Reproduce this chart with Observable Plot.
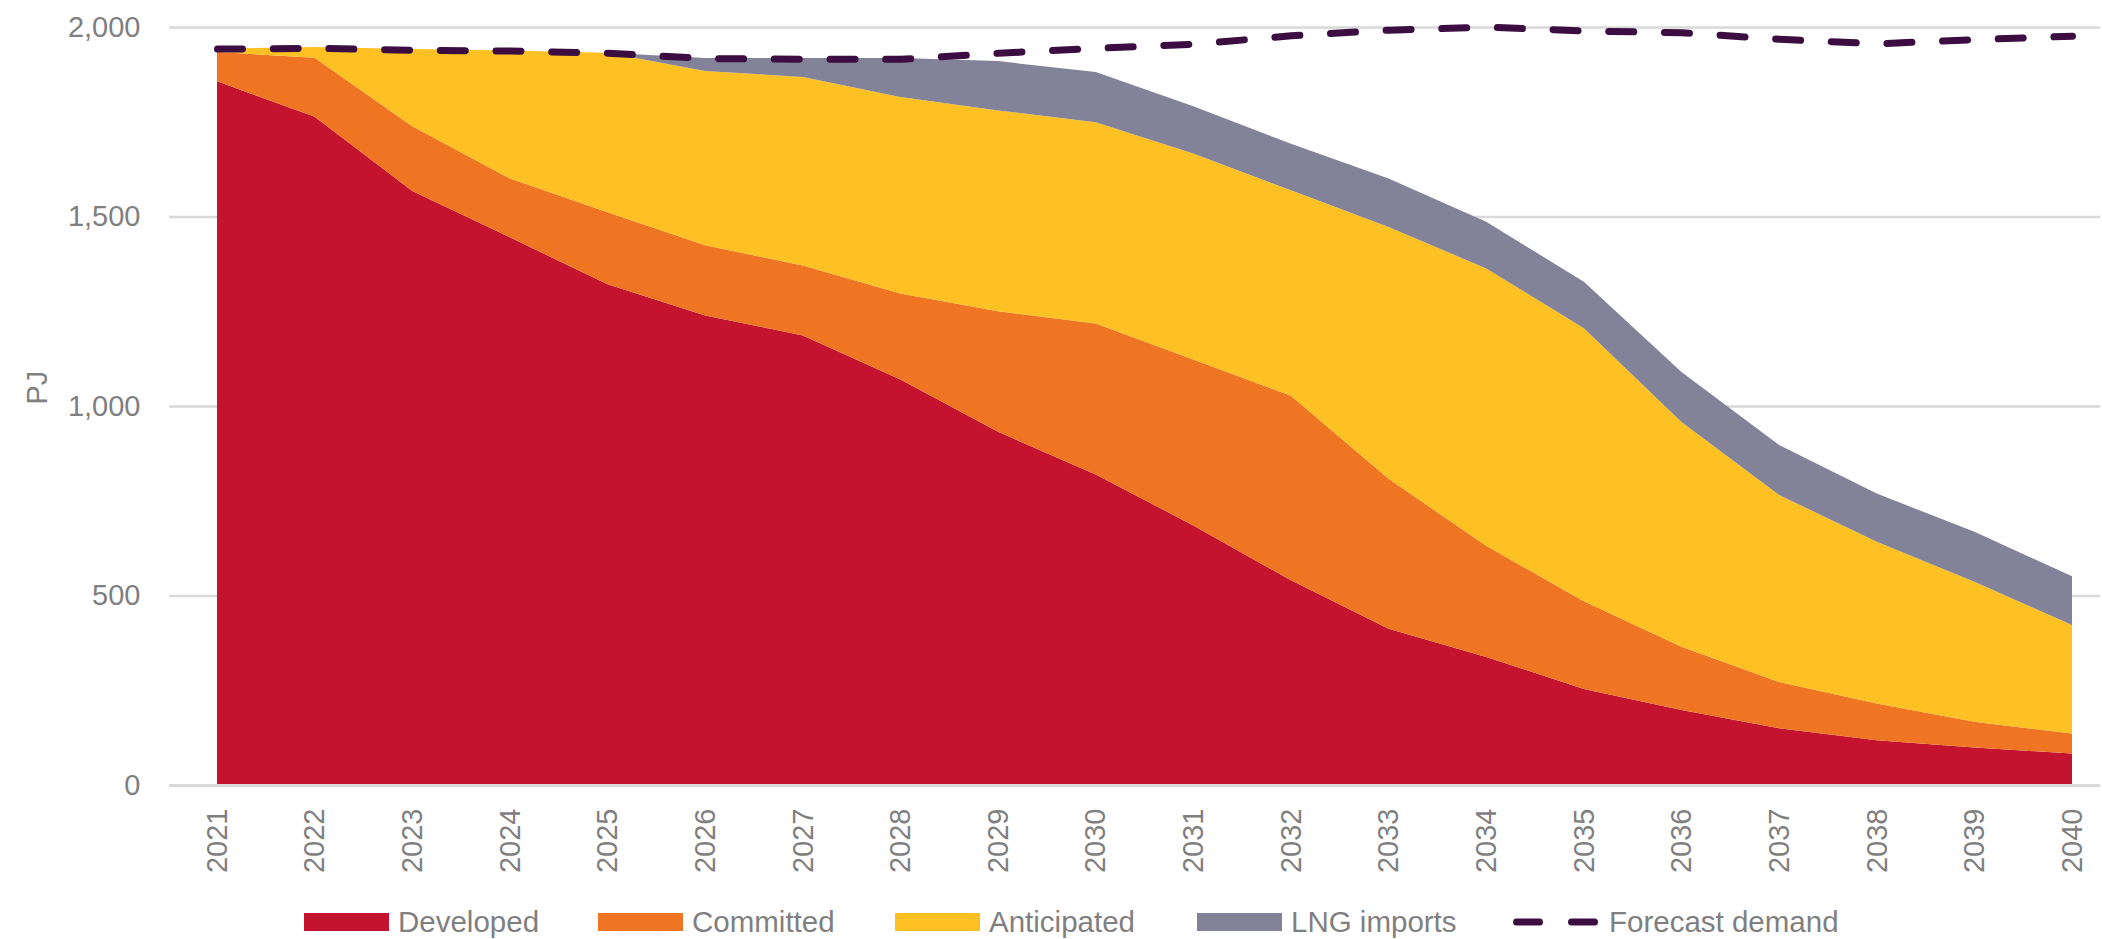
<!DOCTYPE html>
<html>
<head>
<meta charset="utf-8">
<script src="https://cdn.jsdelivr.net/npm/d3@7"></script>
<script src="https://cdn.jsdelivr.net/npm/@observablehq/plot@0.6"></script>
<style>
  html, body { margin: 0; padding: 0; background: #ffffff; }
  #wrap { position: relative; width: 2102px; height: 939px; font-family: "Liberation Sans", Arial, sans-serif; }
  #legend { position: absolute; left: 0; top: 904px; width: 2102px; height: 36px; color: #7f7f7f; font-size: 29.5px; }
  .item { position: absolute; top: 0; height: 36px; display: flex; align-items: center; gap: 9px; white-space: nowrap; }
  .sw { width: 85px; height: 18px; }
</style>
</head>
<body>
<div id="wrap">
  <div id="chart"></div>
  <div id="legend"></div>
</div>
<script>
const years = [2021, 2022, 2023, 2024, 2025, 2026, 2027, 2028, 2029, 2030,
               2031, 2032, 2033, 2034, 2035, 2036, 2037, 2038, 2039, 2040];
const seriesNames = ["Developed", "Committed", "Anticipated", "LNG imports"];
const seriesColors = ["#C3132F", "#F07522", "#FDC123", "#828398"];
const developed   = [1857, 1763, 1567, 1445, 1321, 1239, 1186, 1070, 932, 819, 685, 540, 412, 338, 253, 198, 150, 118, 99, 83];
const committed   = [77, 156, 171, 155, 190, 185, 185, 227, 318, 399, 438, 487, 396, 293, 232, 167, 122, 97, 68, 53];
const anticipated = [9, 28, 204, 338, 421, 460, 497, 518, 530, 531, 543, 542, 664, 732, 720, 593, 493, 427, 369, 286];
const lngImports  = [0, 0, 0, 0, 0, 34, 50, 103, 130, 132, 125, 123, 128, 123, 123, 132, 132, 127, 132, 129];
const forecastDemand = [1943, 1945, 1940, 1938, 1932, 1918, 1916, 1916, 1932, 1945, 1956, 1978, 1993, 2001, 1991, 1986, 1969, 1957, 1968, 1977];
const forecastName = "Forecast demand";
const forecastColor = "#3B0D40";
const yTicks = [0, 500, 1000, 1500, 2000];
const yLabel = "PJ";

const seriesValues = [developed, committed, anticipated, lngImports];
const stacked = [];
seriesNames.forEach((name, s) => {
  years.forEach((yr, i) => stacked.push({year: yr, series: name, value: seriesValues[s][i]}));
});
const demand = years.map((yr, i) => ({year: yr, value: forecastDemand[i]}));

const gridX1 = years[0] - 0.49;
const gridX2 = years[years.length - 1] + 0.29;

const chart = Plot.plot({
  width: 2102,
  height: 890,
  marginLeft: 217,
  marginRight: 30,
  marginTop: 27,
  marginBottom: 105,
  style: {fontFamily: "'Liberation Sans', Arial, sans-serif", fontSize: "29px", color: "#7f7f7f", background: "#ffffff", overflow: "visible"},
  x: {domain: [years[0], years[years.length - 1]], ticks: years, tickFormat: d => String(d), tickRotate: -90, tickSize: 0, tickPadding: 23, label: null},
  y: {domain: [0, 2000], ticks: yTicks, tickFormat: d => d3.format(",")(d), tickSize: 0, tickPadding: 77, label: null},
  color: {domain: seriesNames, range: seriesColors},
  marks: [
    Plot.ruleY(yTicks.filter(d => d > 0), {x1: gridX1, x2: gridX2, stroke: "#d9d9d9", strokeWidth: 2.5}),
    Plot.areaY(stacked, {x: "year", y: "value", fill: "series", order: seriesNames, curve: "linear"}),
    Plot.ruleY([0], {x1: gridX1, x2: gridX2, stroke: "#d9d9d9", strokeWidth: 3}),
    Plot.lineY(demand, {x: "year", y: "value", stroke: forecastColor, strokeWidth: 7, strokeDasharray: "25,30.7", strokeLinecap: "round", strokeLinejoin: "round"}),
    Plot.text([yLabel], {frameAnchor: "left", y: 1005, dx: -180, rotate: -90, fill: "#7f7f7f", fontSize: 29})
  ]
});
document.getElementById("chart").appendChild(chart);

const legend = document.getElementById("legend");
const legendLefts = [304, 598, 895, 1197, 1513];
seriesNames.forEach((name, i) => {
  const it = document.createElement("div");
  it.className = "item";
  it.style.left = legendLefts[i] + "px";
  it.innerHTML = `<div class="sw" style="background:${seriesColors[i]}"></div><span>${name}</span>`;
  legend.appendChild(it);
});
const li = document.createElement("div");
li.className = "item";
li.style.left = legendLefts[4] + "px";
li.innerHTML = `<svg width="87" height="18"><line x1="3.5" x2="83.5" y1="9" y2="9" stroke="${forecastColor}" stroke-width="7" stroke-linecap="round" stroke-dasharray="23,32"/></svg><span>${forecastName}</span>`;
legend.appendChild(li);
</script>
</body>
</html>
